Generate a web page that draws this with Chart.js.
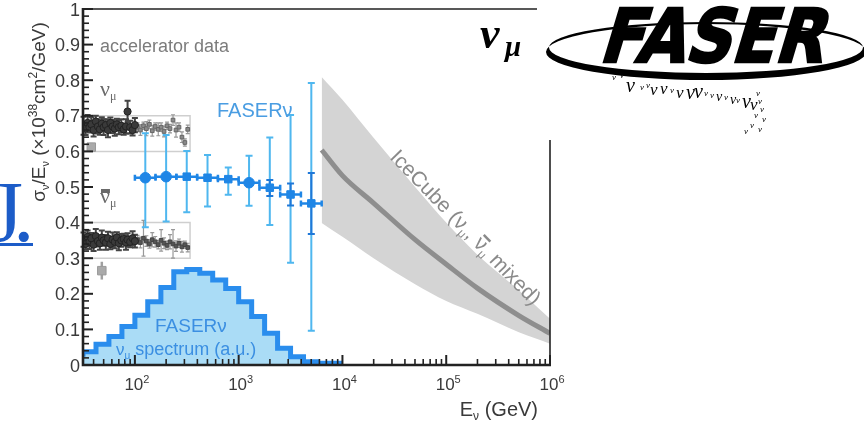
<!DOCTYPE html>
<html>
<head>
<meta charset="utf-8">
<script src="https://cdn.jsdelivr.net/npm/chart.js@4.4.1/dist/chart.umd.min.js"></script>
<style>
  html, body { margin: 0; padding: 0; background: #fff; }
  #wrap { width: 864px; height: 423px; }
</style>
</head>
<body>
<div id="wrap"><canvas id="c" width="864" height="423"></canvas></div>
<script>
// ---- data ----
// FASERnu spectrum histogram (bin edges in GeV, heights in a.u.)
const histEdges = [31.62, 42.2, 56.2, 75.0, 100, 133, 178, 237, 316, 422, 562, 750, 1000, 1334, 1778, 2371, 3162, 4217, 5623, 7499, 10000];
const histValues = [0.023, 0.037, 0.058, 0.080, 0.108, 0.140, 0.178, 0.218, 0.262, 0.268, 0.258, 0.239, 0.215, 0.178, 0.136, 0.089, 0.047, 0.023, 0.009, 0.005];

// FASERnu projected measurement
const faserE = [126, 200, 316, 501, 794, 1259, 1995, 3162, 5012];
const faserELo = [100, 158, 251, 398, 631, 1000, 1585, 2512, 3981];
const faserEHi = [158, 251, 398, 631, 1000, 1585, 2512, 3981, 6310];
const faserXsec = [0.526, 0.529, 0.529, 0.526, 0.522, 0.512, 0.498, 0.479, 0.454];
const faserTotLo = [0.387, 0.403, 0.429, 0.445, 0.478, 0.447, 0.393, 0.287, 0.096];
const faserTotHi = [0.651, 0.646, 0.601, 0.590, 0.555, 0.588, 0.639, 0.702, 0.792];
const faserStatLo = [null, null, null, null, null, null, 0.475, 0.448, 0.368];
const faserStatHi = [null, null, null, null, null, null, 0.520, 0.510, 0.539];
const faserMarker = ['circle', 'circle', 'rect', 'rect', 'rect', 'circle', 'rect', 'rect', 'rect'];

// accelerator data, nu_mu
const accNumuE = [32, 33.5, 35, 36.5, 38, 40, 42, 44, 46, 48, 50, 52.5, 55, 58, 61, 64, 67, 70, 74, 78, 82, 85, 90, 95, 100];
const accNumuY = [0.672, 0.664, 0.680, 0.668, 0.676, 0.660, 0.684, 0.670, 0.662, 0.678, 0.668, 0.674, 0.660, 0.680, 0.670, 0.664, 0.676, 0.668, 0.672, 0.662, 0.670, 0.712, 0.668, 0.660, 0.674];
const accNumuErr = [0.025, 0.018, 0.022, 0.015, 0.02, 0.018, 0.016, 0.02, 0.015, 0.018, 0.022, 0.016, 0.02, 0.015, 0.018, 0.02, 0.016, 0.02, 0.018, 0.015, 0.02, 0.03, 0.018, 0.015, 0.02];
const accNumu2E = [106, 113, 121, 129, 138, 147, 157, 168, 179, 191, 204, 218, 233, 249, 266, 284, 303, 323];
const accNumu2Y = [0.668, 0.660, 0.672, 0.664, 0.676, 0.658, 0.670, 0.662, 0.668, 0.656, 0.672, 0.664, 0.688, 0.660, 0.668, 0.640, 0.625, 0.662];
const accNumu2Err = [0.012, 0.015, 0.01, 0.02, 0.012, 0.015, 0.01, 0.018, 0.012, 0.015, 0.01, 0.012, 0.015, 0.02, 0.012, 0.015, 0.01, 0.012];

// accelerator data, anti nu_mu
const accNubarY = [0.352, 0.340, 0.360, 0.346, 0.356, 0.338, 0.362, 0.348, 0.342, 0.358, 0.350, 0.344, 0.356, 0.340, 0.352, 0.346, 0.358, 0.342, 0.350, 0.354, 0.344, 0.352, 0.346, 0.356, 0.348];
const accNubarErr = [0.02, 0.015, 0.018, 0.02, 0.015, 0.018, 0.02, 0.015, 0.018, 0.02, 0.015, 0.02, 0.018, 0.015, 0.02, 0.018, 0.015, 0.02, 0.018, 0.015, 0.02, 0.018, 0.015, 0.02, 0.018];
const accNubar2Y = [0.352, 0.344, 0.356, 0.348, 0.340, 0.352, 0.346, 0.338, 0.350, 0.342, 0.336, 0.346, 0.340, 0.334, 0.342, 0.332, 0.338, 0.330];
const accNubar2Err = [0.012, 0.015, 0.05, 0.015, 0.012, 0.02, 0.015, 0.012, 0.03, 0.015, 0.012, 0.02, 0.04, 0.015, 0.012, 0.015, 0.01, 0.012];

// older single measurements (light grey blocks)
const accOldE = [38, 48];
const accOldY = [0.612, 0.265];
const accOldErr = [0.012, 0.025];

// accelerator data boxes
const accBoxE = [31.62, 340];
const accBoxNumu = [0.6, 0.7];
const accBoxNubar = [0.3, 0.4];

// IceCube band
const iceE = [6310, 10000, 19953, 50119, 100000, 199526, 501187, 1000000];
const iceUpper = [0.809, 0.745, 0.638, 0.500, 0.400, 0.310, 0.210, 0.130];
const iceCentral = [0.604, 0.532, 0.455, 0.352, 0.283, 0.216, 0.139, 0.089];
const iceLower = [0.399, 0.360, 0.300, 0.227, 0.180, 0.144, 0.092, 0.060];

// axis ticks
const yTickValues = [0, 0.1, 0.2, 0.3, 0.4, 0.5, 0.6, 0.7, 0.8, 0.9, 1];
const yTickLabels = ['0', '0.1', '0.2', '0.3', '0.4', '0.5', '0.6', '0.7', '0.8', '0.9', '1'];
const xTickValues = [100, 1000, 10000, 100000, 1000000];
const xTickExps = ['2', '3', '4', '5', '6'];

// ---- helpers ----
const SANS = '"Liberation Sans", Arial, Helvetica, sans-serif';
const SERIF = '"Liberation Serif", "Times New Roman", serif';

function pts(xs, ys) { return xs.map((x, i) => ({ x: x, y: ys[i] })); }
function minus(ys, es) { return ys.map((v, i) => v - es[i]); }
function plus(ys, es) { return ys.map((v, i) => v + es[i]); }

function richText(ctx, parts, x, y, align) {
  let w = 0;
  parts.forEach(p => { ctx.font = p.f; p.w = ctx.measureText(p.t).width; w += p.w; });
  let cx = align === 'center' ? x - w / 2 : (align === 'right' ? x - w : x);
  parts.forEach(p => {
    ctx.font = p.f;
    ctx.fillText(p.t, cx, y + (p.dy || 0));
    if (p.bar) ctx.fillRect(cx + 1, y + (p.dy || 0) - p.bar[0], p.w - 1, p.bar[1]);
    cx += p.w;
  });
  return w;
}

// error bars, drawn just before each dataset's own markers
const errorBars = {
  id: 'errorBars',
  beforeDatasetDraw(chart, args) {
    const ds = chart.data.datasets[args.index];
    if (!ds.bars) return;
    const xs = chart.scales.x, ys = chart.scales.y, ctx = chart.ctx;
    ctx.save();
    ds.bars.forEach(b => {
      ctx.strokeStyle = b.color;
      ctx.lineWidth = b.width;
      ds.data.forEach((p, i) => {
        if (b.lo[i] == null) return;
        const px = xs.getPixelForValue(p.x), py = ys.getPixelForValue(p.y);
        ctx.beginPath();
        if (b.axis === 'y') {
          const a = ys.getPixelForValue(b.lo[i]), c = ys.getPixelForValue(b.hi[i]);
          ctx.moveTo(px, a); ctx.lineTo(px, c);
          if (b.cap) {
            ctx.moveTo(px - b.cap, a); ctx.lineTo(px + b.cap, a);
            ctx.moveTo(px - b.cap, c); ctx.lineTo(px + b.cap, c);
          }
        } else {
          const a = xs.getPixelForValue(b.lo[i]), c = xs.getPixelForValue(b.hi[i]);
          ctx.moveTo(a, py); ctx.lineTo(c, py);
          if (b.cap) {
            ctx.moveTo(a, py - b.cap); ctx.lineTo(a, py + b.cap);
            ctx.moveTo(c, py - b.cap); ctx.lineTo(c, py + b.cap);
          }
        }
        ctx.stroke();
      });
    });
    ctx.restore();
  }
};

// frame, inward ticks and tick labels
const frameTicks = {
  id: 'frameTicks',
  afterDatasetsDraw(chart) {
    const ctx = chart.ctx, xs = chart.scales.x, ys = chart.scales.y;
    const a = chart.chartArea;
    ctx.save();
    ctx.strokeStyle = '#222';
    // top and right edges are partly hidden by the logo
    ctx.lineWidth = 1.6;
    ctx.beginPath();
    ctx.moveTo(a.left, a.top); ctx.lineTo(537, a.top);
    ctx.moveTo(a.right, 140); ctx.lineTo(a.right, a.bottom);
    ctx.stroke();
    ctx.lineWidth = 2.6;
    ctx.beginPath();
    ctx.moveTo(a.left, a.top - 1); ctx.lineTo(a.left, a.bottom);
    ctx.lineTo(a.right + 1, a.bottom);
    ctx.stroke();

    // y ticks every 0.02
    for (let k = 0; k <= 50; k++) {
      const y = ys.getPixelForValue(k / 50);
      const major = k % 5 === 0;
      ctx.lineWidth = major ? 2 : 1.6;
      ctx.beginPath();
      ctx.moveTo(a.left, y); ctx.lineTo(a.left + (major ? 10 : 6), y);
      ctx.stroke();
    }
    // x ticks at 1..9 x 10^n
    for (let d = 1; d <= 6; d++) {
      for (let m = 1; m <= 9; m++) {
        const v = m * Math.pow(10, d);
        if (v < xs.min || v > xs.max * 1.0001) continue;
        const x = xs.getPixelForValue(v);
        const major = m === 1;
        ctx.lineWidth = major ? 2 : 1.6;
        ctx.beginPath();
        ctx.moveTo(x, a.bottom); ctx.lineTo(x, a.bottom - (major ? 10 : 6));
        ctx.stroke();
      }
    }

    ctx.fillStyle = '#3a3a3a';
    ctx.textBaseline = 'alphabetic';
    ctx.font = '18px ' + SANS;
    ctx.textAlign = 'right';
    yTickValues.forEach((v, i) => {
      ctx.fillText(yTickLabels[i], 80, ys.getPixelForValue(v) + 6.5);
    });
    ctx.textAlign = 'left';
    xTickValues.forEach((v, i) => {
      richText(ctx, [
        { t: '10', f: '17px ' + SANS },
        { t: xTickExps[i], f: '11px ' + SANS, dy: -7 }
      ], xs.getPixelForValue(v) + 2, 390, 'center');
    });
    ctx.restore();
  }
};

// labels, axis titles and the logo
const annotations = {
  id: 'annotations',
  afterDraw(chart) {
    const ctx = chart.ctx;
    ctx.save();
    ctx.textAlign = 'left';
    ctx.textBaseline = 'alphabetic';

    // y title
    ctx.save();
    ctx.translate(45, 112);
    ctx.rotate(-Math.PI / 2);
    ctx.fillStyle = '#3a3a3a';
    richText(ctx, [
      { t: 'σ', f: '19px ' + SANS },
      { t: 'ν', f: '11px ' + SANS, dy: 4 },
      { t: '/E', f: '19px ' + SANS },
      { t: 'ν', f: '11px ' + SANS, dy: 4 },
      { t: ' (×10', f: '19px ' + SANS },
      { t: '38', f: '12px ' + SANS, dy: -8 },
      { t: 'cm', f: '19px ' + SANS },
      { t: '2', f: '12px ' + SANS, dy: -8 },
      { t: '/GeV)', f: '19px ' + SANS }
    ], 0, 0, 'center');
    ctx.restore();

    // x title
    ctx.fillStyle = '#3a3a3a';
    richText(ctx, [
      { t: 'E', f: '20px ' + SANS },
      { t: 'ν', f: '12px ' + SANS, dy: 4 },
      { t: ' (GeV)', f: '20px ' + SANS }
    ], 538, 416, 'right');

    // accelerator labels
    ctx.fillStyle = '#7c7c7c';
    ctx.font = '18px ' + SANS;
    ctx.fillText('accelerator data', 100, 52);
    ctx.fillStyle = '#6a6a6a';
    richText(ctx, [
      { t: 'ν', f: '22px ' + SERIF },
      { t: 'μ', f: '12px ' + SERIF, dy: 4 }
    ], 100, 96, 'left');
    richText(ctx, [
      { t: 'ν', f: '22px ' + SERIF, bar: [14, 4] },
      { t: 'μ', f: '12px ' + SERIF, dy: 4 }
    ], 100, 203, 'left');

    // FASERnu labels
    ctx.fillStyle = '#4a9de2';
    ctx.font = '20px ' + SANS;
    ctx.fillText('FASERν', 217, 117);
    ctx.fillStyle = '#3b8fe2';
    ctx.font = '19px ' + SANS;
    ctx.fillText('FASERν', 155, 332);
    richText(ctx, [
      { t: 'ν', f: '17px ' + SANS },
      { t: 'μ', f: '10px ' + SANS, dy: 4 },
      { t: ' spectrum (a.u.)', f: '18px ' + SANS }
    ], 116, 355, 'left');

    // IceCube label along the band
    ctx.save();
    ctx.translate(389, 158);
    ctx.rotate(46 * Math.PI / 180);
    ctx.fillStyle = '#8a8a8a';
    richText(ctx, [
      { t: 'IceCube (ν', f: '21px ' + SANS },
      { t: 'μ', f: '12px ' + SANS, dy: 4 },
      { t: ', ', f: '21px ' + SANS },
      { t: 'ν', f: '21px ' + SANS, bar: [16, 2.5] },
      { t: 'μ', f: '12px ' + SANS, dy: 4 },
      { t: ' mixed)', f: '21px ' + SANS }
    ], 0, 0, 'left');
    ctx.restore();

    // fragment of a link on the left edge
    ctx.fillStyle = '#1c5cc8';
    ctx.font = '86px ' + SERIF;
    ctx.textAlign = 'right';
    ctx.fillText('J', 23, 241);
    ctx.textAlign = 'left';
    ctx.fillText('.', 13, 241);
    ctx.fillRect(0, 243, 33, 3);

    // nu_mu next to the logo
    ctx.fillStyle = '#000';
    ctx.font = 'bold italic 44px ' + SERIF;
    ctx.fillText('ν', 480, 48);
    ctx.font = 'bold italic 29px ' + SERIF;
    ctx.fillText('μ', 505, 56);

    // FASER logo: swoosh ellipse + lettering + trail of small nus
    ctx.beginPath();
    ctx.ellipse(706, 52, 160, 28, 0, 0, Math.PI * 2);
    ctx.ellipse(706, 47.5, 157, 25.5, 0, 0, Math.PI * 2);
    ctx.fill('evenodd');
    ctx.save();
    ctx.translate(598, 62);
    ctx.transform(1, 0, -0.3, 1, 0, 0);
    ctx.font = 'bold 74px "DejaVu Sans", ' + SANS;
    const fw = ctx.measureText('FASER').width;
    ctx.scale(224 / fw, 1);
    ctx.lineWidth = 2.5;
    ctx.strokeStyle = '#000';
    ctx.fillText('FASER', 0, 0);
    ctx.strokeText('FASER', 0, 0);
    ctx.restore();
    const trail = [[612, 80, 9], [620, 78, 9], [626, 92, 20], [640, 90, 9], [646, 88, 9], [650, 95, 17],
      [660, 94, 17], [670, 93, 9], [676, 98, 17], [686, 99, 20], [694, 98, 20], [704, 96, 9], [710, 98, 9],
      [716, 101, 14], [724, 100, 9], [730, 104, 14], [736, 103, 9], [742, 108, 20], [750, 110, 17],
      [756, 96, 9], [758, 104, 9], [760, 112, 9], [754, 118, 9], [762, 122, 9], [750, 128, 9], [758, 132, 9], [744, 134, 9]];
    trail.forEach(t => {
      ctx.font = 'italic ' + t[2] + 'px ' + SERIF;
      ctx.fillText('ν', t[0], t[1]);
    });
    ctx.restore();
  }
};

// ---- chart ----
const accDark = '#3a3a3a';
const accLight = '#8a8a8a';

new Chart(document.getElementById('c'), {
  type: 'scatter',
  data: {
    datasets: [
      {
        label: 'FASERnu',
        data: pts(faserE, faserXsec),
        pointStyle: faserMarker,
        pointRadius: 5.3,
        backgroundColor: '#1f86e6',
        borderColor: '#1f86e6',
        borderWidth: 1,
        order: 1,
        bars: [
          { axis: 'y', lo: faserTotLo, hi: faserTotHi, color: '#4fb7ef', width: 2, cap: 3.5 },
          { axis: 'x', lo: faserELo, hi: faserEHi, color: '#1f86e6', width: 2.5, cap: 3 },
          { axis: 'y', lo: faserStatLo, hi: faserStatHi, color: '#1f78d8', width: 2, cap: 3.5 }
        ]
      },
      {
        label: 'acc numu',
        data: pts(accNumuE, accNumuY),
        pointStyle: 'circle', pointRadius: 3.6,
        backgroundColor: accDark, borderColor: '#222', borderWidth: 1,
        order: 2,
        bars: [{ axis: 'y', lo: minus(accNumuY, accNumuErr), hi: plus(accNumuY, accNumuErr), color: '#444', width: 2, cap: 3 }]
      },
      {
        label: 'acc numu high',
        data: pts(accNumu2E, accNumu2Y),
        pointStyle: 'rect', pointRadius: 2.6,
        backgroundColor: accLight, borderColor: '#666', borderWidth: 1,
        order: 2,
        bars: [{ axis: 'y', lo: minus(accNumu2Y, accNumu2Err), hi: plus(accNumu2Y, accNumu2Err), color: '#999', width: 1.2, cap: 2 }]
      },
      {
        label: 'acc nubar',
        data: pts(accNumuE, accNubarY),
        pointStyle: 'circle', pointRadius: 3.6,
        backgroundColor: accDark, borderColor: '#222', borderWidth: 1,
        order: 2,
        bars: [{ axis: 'y', lo: minus(accNubarY, accNubarErr), hi: plus(accNubarY, accNubarErr), color: '#444', width: 2, cap: 3 }]
      },
      {
        label: 'acc nubar high',
        data: pts(accNumu2E, accNubar2Y),
        pointStyle: 'rect', pointRadius: 2.6,
        backgroundColor: '#555', borderColor: '#444', borderWidth: 1,
        order: 2,
        bars: [{ axis: 'y', lo: minus(accNubar2Y, accNubar2Err), hi: plus(accNubar2Y, accNubar2Err), color: '#999', width: 1.2, cap: 2 }]
      },
      {
        label: 'acc old',
        data: pts(accOldE, accOldY),
        pointStyle: 'rect', pointRadius: 6,
        backgroundColor: '#aaaaaa', borderColor: '#9a9a9a', borderWidth: 1,
        order: 2,
        bars: [{ axis: 'y', lo: minus(accOldY, accOldErr), hi: plus(accOldY, accOldErr), color: '#a0a0a0', width: 2.5, cap: 0 }]
      },
      {
        type: 'line', label: 'box numu',
        data: [
          { x: accBoxE[0], y: accBoxNumu[0] }, { x: accBoxE[1], y: accBoxNumu[0] },
          { x: accBoxE[1], y: accBoxNumu[1] }, { x: accBoxE[0], y: accBoxNumu[1] }
        ],
        borderColor: '#cfcfcf', borderWidth: 1.5, pointRadius: 0, fill: false, order: 3
      },
      {
        type: 'line', label: 'box nubar',
        data: [
          { x: accBoxE[0], y: accBoxNubar[0] }, { x: accBoxE[1], y: accBoxNubar[0] },
          { x: accBoxE[1], y: accBoxNubar[1] }, { x: accBoxE[0], y: accBoxNubar[1] }
        ],
        borderColor: '#cfcfcf', borderWidth: 1.5, pointRadius: 0, fill: false, order: 3
      },
      {
        type: 'line', label: 'spectrum',
        data: pts(histEdges, histValues.concat([histValues[histValues.length - 1]])),
        stepped: 'after',
        borderColor: '#2a8ded', borderWidth: 5,
        backgroundColor: '#aadcf6',
        fill: 'origin', pointRadius: 0, order: 4
      },
      {
        type: 'line', label: 'IceCube upper',
        data: pts(iceE, iceUpper),
        borderWidth: 0, borderColor: 'rgba(0,0,0,0)', backgroundColor: '#d4d4d4',
        fill: '+1', pointRadius: 0, cubicInterpolationMode: 'monotone', order: 6
      },
      {
        type: 'line', label: 'IceCube lower',
        data: pts(iceE, iceLower),
        borderWidth: 0, borderColor: 'rgba(0,0,0,0)',
        fill: false, pointRadius: 0, cubicInterpolationMode: 'monotone', order: 6
      },
      {
        type: 'line', label: 'IceCube',
        data: pts(iceE, iceCentral),
        borderColor: '#8e8e8e', borderWidth: 5,
        fill: false, pointRadius: 0, cubicInterpolationMode: 'monotone', order: 5
      }
    ]
  },
  options: {
    responsive: false,
    animation: false,
    devicePixelRatio: 1,
    layout: { padding: { left: 83, top: 9, right: 314, bottom: 58 } },
    scales: {
      x: { type: 'logarithmic', display: false, min: 31.62, max: 1000000 },
      y: { type: 'linear', display: false, min: 0, max: 1 }
    },
    plugins: {
      legend: { display: false },
      tooltip: { enabled: false }
    }
  },
  plugins: [errorBars, frameTicks, annotations]
});
</script>
</body>
</html>
